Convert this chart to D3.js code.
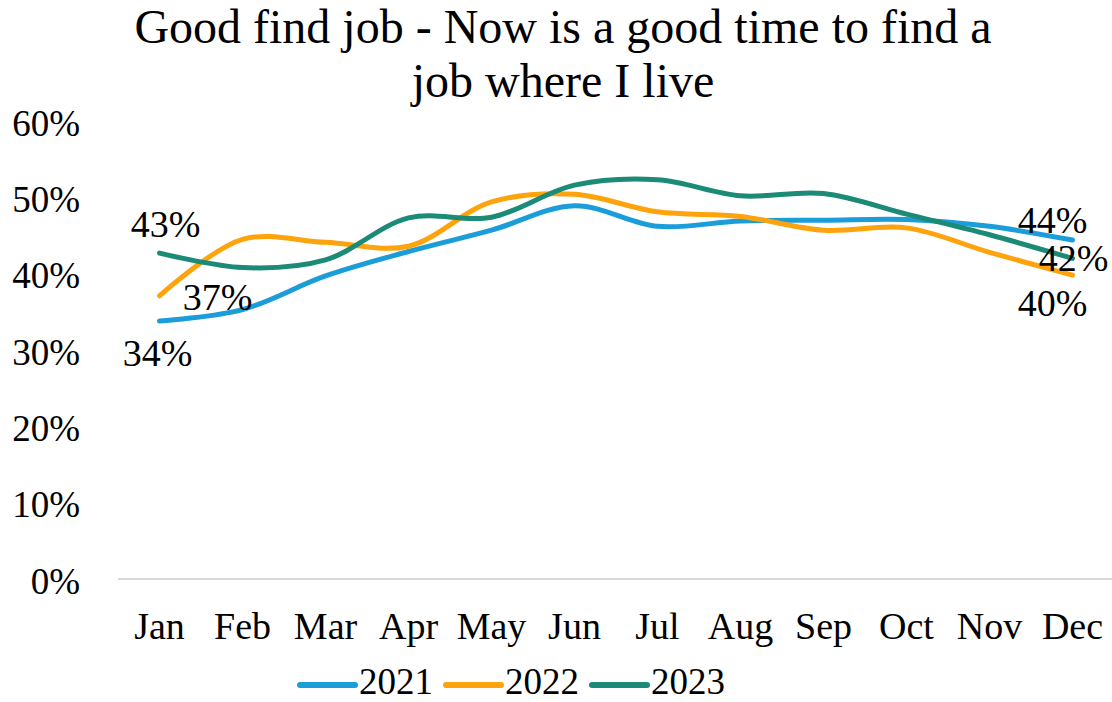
<!DOCTYPE html>
<html>
<head>
<meta charset="utf-8">
<script src="https://cdn.jsdelivr.net/npm/d3@7"></script>
<style>
  body { margin: 0; background: #fff; }
</style>
</head>
<body>
<div id="graphicContainer"></div>
<script>
var months = ["Jan", "Feb", "Mar", "Apr", "May", "Jun", "Jul", "Aug", "Sep", "Oct", "Nov", "Dec"]
var years = ["2021", "2022", "2023"]
var values2021 = [33.8, 35.3, 39.7, 42.9, 45.7, 48.9, 46.2, 46.9, 47.0, 47.1, 46.2, 44.4]
var values2022 = [37.1, 44.5, 44.1, 43.6, 49.4, 50.4, 48.1, 47.5, 45.7, 46.0, 42.8, 39.8]
var values2023 = [42.7, 40.8, 41.8, 47.3, 47.4, 51.6, 52.3, 50.2, 50.5, 47.8, 45.1, 42.0]
var yTicks = [0, 10, 20, 30, 40, 50, 60]
var colors = ["#1b9dd9", "#ffa30d", "#1b8a76"]
var titleLines = ["Good find job - Now is a good time to find a", "job where I live"]

var series = [values2021, values2022, values2023]

// pick the first serif face that is really installed
function pickFont(list) {
	var ctx = document.createElement("canvas").getContext("2d")
	var sample = "Good find job 0123456789%"
	ctx.font = "40px monospace"
	var base = ctx.measureText(sample).width
	for (var i = 0; i < list.length; i++) {
		ctx.font = "40px '" + list[i] + "', monospace"
		if (Math.abs(ctx.measureText(sample).width - base) > 0.5) return "'" + list[i] + "'"
	}
	return "serif"
}
var fontFamily = pickFont(["Liberation Serif", "Tinos", "Times New Roman", "Times", "Nimbus Roman", "DejaVu Serif"]) + ", serif"

var width = 1112
var height = 702
var margin = {top: 121, right: 0, bottom: 123, left: 118}

var svg = d3.select("#graphicContainer").append("svg")
	.attr("width", width)
	.attr("height", height)
	.style("font-family", fontFamily)

// title
svg.selectAll(".title")
	.data(titleLines)
	.enter()
	.append("text")
	.attr("class", "title")
	.attr("x", 563)
	.attr("y", (d, i) => 43 + i * 54)
	.attr("text-anchor", "middle")
	.attr("font-size", 48)
	.style("font-family", fontFamily)
	.text(d => d)

var x = d3.scaleBand()
	.domain(months)
	.range([margin.left, 1114])

var y = d3.scaleLinear()
	.domain([0, 60])
	.range([height - margin.bottom, margin.top])

// baseline gridline
svg.append("line")
	.attr("x1", x.range()[0])
	.attr("x2", x.range()[1])
	.attr("y1", y(0))
	.attr("y2", y(0))
	.attr("stroke", "#d9d9d9")
	.attr("stroke-width", 2)

var yAxis = svg.append("g")
	.attr("transform", "translate(80,0)")
	.call(d3.axisLeft(y).tickValues(yTicks).tickSize(0).tickPadding(0).tickFormat(d => d + "%"))

yAxis.select(".domain").remove()
yAxis.selectAll("text")
	.attr("font-size", 37)
	.style("font-family", fontFamily)
	.attr("fill", "#000")
	.attr("dy", "0.38em")

var xAxis = svg.append("g")
	.attr("transform", "translate(0," + y(0) + ")")
	.call(d3.axisBottom(x).tickSize(0))

xAxis.select(".domain").remove()
xAxis.selectAll("text")
	.attr("font-size", 38)
	.style("font-family", fontFamily)
	.attr("fill", "#000")
	.attr("y", 60)
	.attr("dy", 0)

var line = d3.line()
	.x((d, i) => x(months[i]) + x.bandwidth() / 2)
	.y(d => y(d))
	.curve(d3.curveCatmullRom)

svg.selectAll(".series")
	.data(series)
	.enter()
	.append("path")
	.attr("class", "series")
	.attr("d", d => line(d))
	.attr("fill", "none")
	.attr("stroke", (d, i) => colors[i])
	.attr("stroke-width", 5)
	.attr("stroke-linecap", "round")
	.attr("stroke-linejoin", "round")

// data labels on first and last points
var labels = [
	{s: 0, i: 0, dx: -2, dy: 45},
	{s: 1, i: 0, dx: 58, dy: 14},
	{s: 2, i: 0, dx: 6, dy: -16},
	{s: 0, i: 11, dx: -20, dy: -7},
	{s: 1, i: 11, dx: -20, dy: 41},
	{s: 2, i: 11, dx: 1, dy: 13}
]

svg.selectAll(".dataLabel")
	.data(labels)
	.enter()
	.append("text")
	.attr("class", "dataLabel")
	.attr("x", d => x(months[d.i]) + x.bandwidth() / 2 + d.dx)
	.attr("y", d => y(series[d.s][d.i]) + d.dy)
	.attr("text-anchor", "middle")
	.attr("font-size", 38)
	.style("font-family", fontFamily)
	.text(d => Math.round(series[d.s][d.i]) + "%")

// legend
var legend = svg.append("g")
	.attr("transform", "translate(300,685)")

var lx = 0
years.forEach(function (yr, i) {
	legend.append("line")
		.attr("x1", lx)
		.attr("x2", lx + 55)
		.attr("y1", 0)
		.attr("y2", 0)
		.attr("stroke", colors[i])
		.attr("stroke-width", 6)
		.attr("stroke-linecap", "round")
	var t = legend.append("text")
		.attr("x", lx + 59)
		.attr("y", 9)
		.attr("font-size", 37)
		.style("font-family", fontFamily)
		.text(yr)
	lx = lx + 59 + t.node().getComputedTextLength() + 13
})
</script>
</body>
</html>
